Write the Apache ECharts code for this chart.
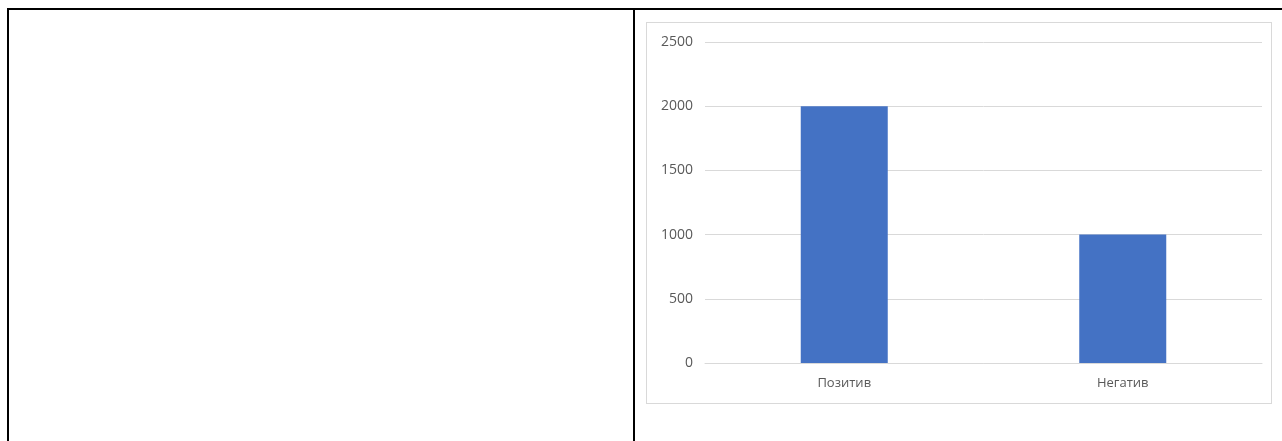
<!DOCTYPE html>
<html>
<head>
<meta charset="utf-8">
<script src="https://cdn.jsdelivr.net/npm/echarts@6/dist/echarts.min.js"></script>
<style>
  html, body { margin: 0; padding: 0; background: #fff; width: 1282px; height: 441px; overflow: hidden; }
  .table { position: absolute; left: 7px; top: 8px; width: 1290px; height: 460px;
           border-top: 2px solid #000; border-left: 2px solid #000; }
  .divider { position: absolute; left: 633px; top: 8px; width: 2px; height: 460px; background: #000; }
  #chart { position: absolute; left: 646px; top: 22px; width: 624px; height: 380px;
           border: 1px solid #d9d9d9; box-sizing: content-box; }
</style>
</head>
<body>
<div class="table"></div>
<div class="divider"></div>
<div id="chart"></div>
<script>
  // Sentiment counts
  const categories = ['Позитив', 'Негатив'];
  const counts = [2000, 1000];
  const yTicks = [0, 500, 1000, 1500, 2000, 2500];

  const chart = echarts.init(document.getElementById('chart'), null, { renderer: 'canvas' });
  chart.setOption({
    animation: false,
    grid: { left: 58, right: 9, top: 19, bottom: 40, containLabel: false },
    xAxis: {
      type: 'category',
      data: categories,
      axisLine: { show: true, lineStyle: { color: '#d9d9d9', width: 1 } },
      axisTick: { show: false },
      axisLabel: { color: '#595959', fontFamily: 'Open Sans', fontSize: 13, margin: 14 }
    },
    yAxis: {
      type: 'value',
      min: yTicks[0],
      max: yTicks[yTicks.length - 1],
      interval: 500,
      axisLine: { show: false },
      axisTick: { show: false },
      axisLabel: { color: '#595959', fontFamily: 'Open Sans', fontSize: 14, margin: 12,
                   formatter: (v) => String(v) },
      splitLine: { lineStyle: { color: '#d9d9d9', width: 1 } }
    },
    series: [{
      type: 'bar',
      data: counts,
      barWidth: 87,
      itemStyle: { color: '#4472C4' }
    }]
  });
</script>
</body>
</html>
